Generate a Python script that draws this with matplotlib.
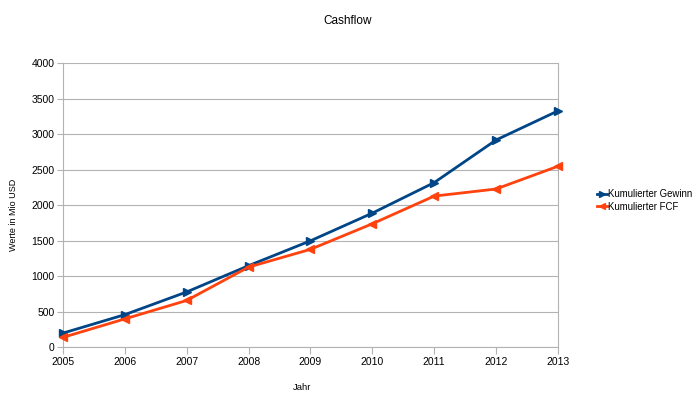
import matplotlib
matplotlib.use("Agg")
import matplotlib.pyplot as plt

plt.rcParams['font.family'] = ['Liberation Sans', 'DejaVu Sans']

years = [2005, 2006, 2007, 2008, 2009, 2010, 2011, 2012, 2013]
gewinn = [200, 460, 780, 1150, 1500, 1890, 2320, 2920, 3330]
fcf = [140, 400, 660, 1130, 1380, 1740, 2130, 2230, 2550]
yticks = [0, 500, 1000, 1500, 2000, 2500, 3000, 3500, 4000]

fig = plt.figure(figsize=(7, 3.96), dpi=100)
ax = fig.add_axes([0.09, 0.123, 0.707, 0.717])

ax.plot(years, gewinn, color='#004586', marker='>', markersize=6, linewidth=2,
        label='Kumulierter Gewinn', clip_on=False, zorder=3)
ax.plot(years, fcf, color='#ff420e', marker='<', markersize=6, linewidth=2,
        label='Kumulierter FCF', clip_on=False, zorder=3)

ax.set_xlim(2005, 2013)
ax.set_ylim(0, 4000)
ax.set_yticks(yticks)
ax.set_xticks(years)
ax.grid(axis='y', color='#b3b3b3', linewidth=0.8)
ax.set_axisbelow(True)
ax.spines['top'].set_visible(False)
for s in ['left', 'bottom', 'right']:
    ax.spines[s].set_color('#b3b3b3')
    ax.spines[s].set_linewidth(0.8)
ax.tick_params(axis='x', length=5, color='#b3b3b3', labelsize=7.5, pad=2)
ax.tick_params(axis='y', length=4, color='#b3b3b3', labelsize=7.5, pad=2)

ax.set_xlabel('Jahr', fontsize=6.8)
ax.xaxis.set_label_coords(0.483, -0.126)
ax.set_ylabel('Werte in Mio USD', fontsize=6.5)
ax.yaxis.set_label_coords(-0.09, 0.466)
fig.suptitle('Cashflow', fontsize=8.5, x=0.497, y=0.962)

fig.legend(handles=ax.get_lines(), loc='center left', bbox_to_anchor=(0.853, 0.494),
           frameon=False, fontsize=6.9, handlelength=1.0, handletextpad=0.1,
           labelspacing=0.3, markerscale=0.7, borderpad=0, borderaxespad=0)

fig.savefig('out.png', dpi=100)
